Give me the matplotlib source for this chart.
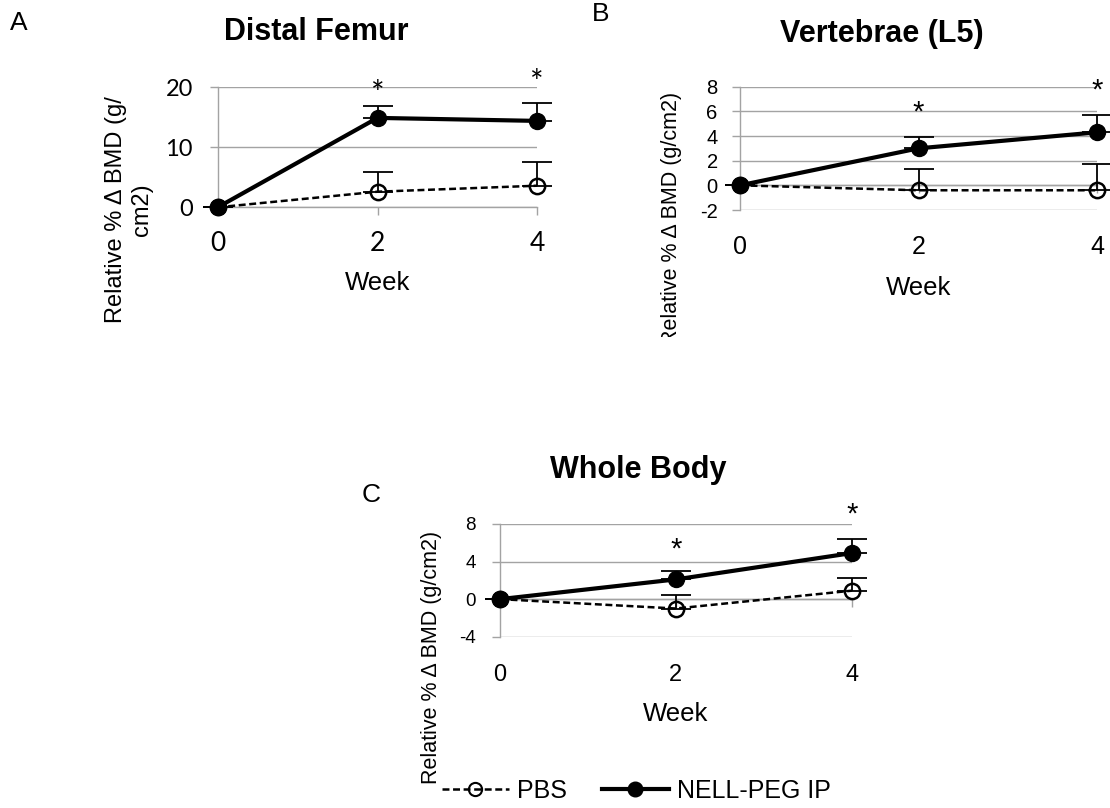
import matplotlib
matplotlib.use("Agg")
import matplotlib.pyplot as plt
from matplotlib.lines import Line2D
from matplotlib.patches import Rectangle
import numpy as np

plt.rcParams['font.family'] = ['Liberation Sans', 'DejaVu Sans']
plt.rcParams['lines.scale_dashes'] = False

W, H = 1110, 808

# ---------------- data ----------------
weeks = [0, 2, 4]
week_labels = ['0', '2', '4']
series_names = ['PBS', 'NELL-PEG IP']

femur_pbs = [0, 2.6, 3.6]
femur_pbs_err = [0, 3.3, 4.0]
femur_nell = [0, 14.9, 14.4]
femur_nell_err = [0, 1.9, 3.0]
femur_star = [np.nan, 20.1, 22.0]      # height of significance asterisks
femur_yticks = [0, 10, 20]

vert_pbs = [0, -0.4, -0.4]
vert_pbs_err = [0, 1.7, 2.1]
vert_nell = [0, 3.0, 4.3]
vert_nell_err = [0, 0.9, 1.4]
vert_star = [np.nan, 6.3, 8.05]
vert_yticks = [-2, 0, 2, 4, 6, 8]

whole_pbs = [0, -1.0, 0.9]
whole_pbs_err = [0, 1.4, 1.4]
whole_nell = [0, 2.1, 4.9]
whole_nell_err = [0, 0.9, 1.5]
whole_star = [np.nan, 5.8, 9.5]
whole_yticks = [-4, 0, 4, 8]

titles = ['Distal Femur', 'Vertebrae (L5)', 'Whole Body']
panel_letters = ['A', 'B', 'C']
xlabel = 'Week'
ylabel_wrapped = 'Relative % \u0394 BMD (g/\ncm2)'
ylabel = 'Relative % \u0394 BMD (g/cm2)'

GRID = '#a3a3a3'

fig = plt.figure(figsize=(W / 100, H / 100), dpi=100)


def fx(x):
    return x / W


def fy(y):
    return 1 - y / H


def px_box(x0, x1, ytop, ybot):
    return [x0 / W, 1 - ybot / H, (x1 - x0) / W, (ybot - ytop) / H]


def ftext(x, y, s, **kw):
    return fig.text(fx(x), fy(y), s, **kw)


def panel(box, pbs, pbs_err, nell, nell_err, star, yticks, tickfont,
          ysize, xsize, ypad, xbase, starsize, starshift):
    ax = fig.add_axes(px_box(*box))
    ax.set_xlim(0, 4)
    ymin, ymax = yticks[0], yticks[-1]
    ax.set_ylim(ymin, ymax)
    ax.set_yticks(yticks)
    ax.set_yticklabels([str(t) for t in yticks], fontfamily=tickfont)
    ax.set_xticks(weeks)
    for s in ['top', 'right', 'bottom']:
        ax.spines[s].set_visible(False)
    ax.spines['left'].set_color(GRID)
    ax.spines['left'].set_linewidth(1.0)
    ax.grid(axis='y', color=GRID, lw=1.0)
    ax.set_axisbelow(True)
    ax.tick_params(axis='y', direction='out', length=5.8, width=1.0,
                   color=GRID, pad=ypad, labelsize=ysize)
    ax.tick_params(axis='x', length=0, labelbottom=False)

    # category labels, baseline placed a fixed distance below the plot area
    for wk, lab in zip(weeks, week_labels):
        ax.annotate(lab, xy=(wk, 0), xycoords=('data', 'axes fraction'),
                    xytext=(0, -xbase), textcoords='offset points',
                    ha='center', va='baseline', fontsize=xsize,
                    family=tickfont, annotation_clip=False)

    zero_frac = (0 - ymin) / (ymax - ymin)
    sec = ax.secondary_xaxis(zero_frac)
    sec.set_xticks(weeks)
    sec.tick_params(direction='out', length=5.8, width=1.0, color=GRID,
                    labelbottom=False)
    sec.spines['bottom'].set_color(GRID)
    sec.spines['bottom'].set_linewidth(1.0)

    zeros = np.zeros(len(weeks))
    for vals, err in [(pbs, pbs_err), (nell, nell_err)]:
        c = ax.errorbar(weeks, vals, yerr=[zeros, err], fmt='none',
                        ecolor='black', elinewidth=1.3, capsize=11,
                        capthick=1.3, zorder=2.5)
        for art in list(c.lines[1]) + list(c.lines[2]):
            art.set_clip_on(False)

    lp, = ax.plot(weeks, pbs, color='black', lw=1.8, marker='o', ms=11,
                  mfc='none', mec='black', mew=1.8, clip_on=False, zorder=3)
    lp.set_dashes([5, 2.6])
    ax.plot(weeks, nell, color='black', lw=3.0, marker='o', ms=11.5,
            mfc='black', mec='black', clip_on=False, zorder=4)

    for wk, sy in zip(weeks, star):
        if np.isfinite(sy):
            # anchor the ink centre of the asterisk at the given height
            ax.annotate('*', xy=(wk, sy), xytext=(0, -starshift * starsize),
                        textcoords='offset points', ha='center',
                        va='baseline', fontsize=starsize, family=tickfont,
                        annotation_clip=False)
    return ax


# Panel A
panel((217.7, 537.3, 87.3, 207.3), femur_pbs, femur_pbs_err, femur_nell,
      femur_nell_err, femur_star, femur_yticks, 'Lato', 17, 19, 12.0, 31.8,
      23, 0.55)
# Panel B
panel((740, 1097, 86.7, 210), vert_pbs, vert_pbs_err, vert_nell,
      vert_nell_err, vert_star, vert_yticks, 'Liberation Sans', 14.5, 18,
      10.3, 31.7, 21, 0.44)
# Panel C
panel((500, 851.7, 524, 636.7), whole_pbs, whole_pbs_err, whole_nell,
      whole_nell_err, whole_star, whole_yticks, 'Liberation Sans', 13.5, 17,
      11.7, 32.1, 21, 0.44)

# titles and letters
ftext(316.7, 40, titles[0], ha='center', va='baseline', fontsize=22,
      fontweight='bold')
ftext(882, 41.7, titles[1], ha='center', va='baseline', fontsize=22,
      fontweight='bold')
ftext(638, 478, titles[2], ha='center', va='baseline', fontsize=22,
      fontweight='bold')
ftext(10, 30, panel_letters[0], ha='left', va='baseline', fontsize=19)
ftext(592, 21, panel_letters[1], ha='left', va='baseline', fontsize=19)
ftext(362, 502, panel_letters[2], ha='left', va='baseline', fontsize=19)

# x labels
ftext(377.5, 290, xlabel, ha='center', va='baseline', fontsize=18.5)
ftext(918.5, 295, xlabel, ha='center', va='baseline', fontsize=18.5)
ftext(676, 720.7, xlabel, ha='center', va='baseline', fontsize=18.5)

# y labels
ftext(129, 210, ylabel_wrapped, rotation=90, ha='center', va='center',
      fontsize=17, multialignment='center', linespacing=1.2)
tb = ftext(672, 218, ylabel, rotation=90, ha='center', va='center',
           fontsize=15.5)
clip = Rectangle((0, fy(337)), 1, 1, transform=fig.transFigure,
                 facecolor='none', edgecolor='none')
tb.set_clip_path(clip)
ftext(432, 657, ylabel, rotation=90, ha='center', va='center',
      fontsize=15.5)

# legend
h_pbs = Line2D([], [], color='black', lw=1.8, marker='o', ms=9.5,
               mfc='none', mec='black', mew=1.5, dashes=[5, 2.6])
h_nell = Line2D([], [], color='black', lw=3.0, marker='o', ms=10.5,
                mfc='black', mec='black')
fig.legend([h_pbs, h_nell], series_names, loc='center left',
           bbox_to_anchor=(fx(441.7), fy(791)), ncol=2, frameon=False,
           fontsize=18, handlelength=2.7, handletextpad=0.3,
           columnspacing=1.4, borderpad=0, borderaxespad=0)

fig.savefig('out.png', dpi=100)
